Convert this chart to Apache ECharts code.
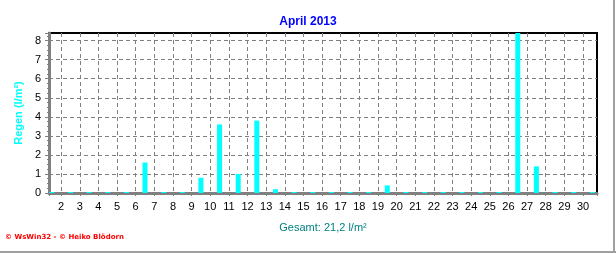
<!DOCTYPE html>
<html>
<head>
<meta charset="utf-8">
<script src="https://cdn.jsdelivr.net/npm/echarts@6/dist/echarts.min.js"></script>
<style>
html,body{margin:0;padding:0;background:#fff;}
#c{width:616px;height:253px;}
</style>
</head>
<body>
<div id="c"></div>
<script>
// Days of April 2013 and daily rain (l/m²)
const days = [1,2,3,4,5,6,7,8,9,10,11,12,13,14,15,16,17,18,19,20,21,22,23,24,25,26,27,28,29,30];
const rain = [0,0,0,0,0,1.6,0,0,0.8,3.6,1.0,3.8,0.2,0,0,0,0,0,0.4,0,0,0,0,0,0,8.4,1.4,0,0,0];
const xTickLabels = [2,3,4,5,6,7,8,9,10,11,12,13,14,15,16,17,18,19,20,21,22,23,24,25,26,27,28,29,30];
const yTickLabels = [0,1,2,3,4,5,6,7,8];
const titleText = 'April 2013';
const yName = 'Regen (l/m²)';
const totalText = 'Gesamt: 21,2 l/m²';
const footerText = '© WsWin32 - © Heiko Blödorn';

// each day's bar covers the interval [day, day+1] and sits at its middle
const barData = days.map((d, i) => [d + 0.5, rain[i]]);

const chart = echarts.init(document.getElementById('c'), null, {renderer: 'canvas'});
const font = 'Liberation Sans, Arial, sans-serif';
const gridLine = {color: '#808080', type: [4, 3], width: 1};
chart.setOption({
  animation: false,
  backgroundColor: '#fff',
  title: {
    text: titleText, left: 'center', top: 11,
    textStyle: {color: '#0000ff', fontSize: 12, fontWeight: 'bold', fontFamily: font}
  },
  grid: {left: 49, right: 19, top: 33, bottom: 60, show: true, borderColor: '#000', borderWidth: 2, backgroundColor: 'transparent'},
  xAxis: {
    type: 'value', min: 1.35, max: 30.75, splitNumber: 30,
    name: totalText, nameLocation: 'middle', nameGap: 29,
    nameTextStyle: {color: '#008080', fontSize: 11, fontFamily: font},
    axisLine: {show: true, onZero: false, lineStyle: {color: '#808080', width: 3}},
    axisTick: {show: true, length: 3, lineStyle: {color: '#808080'}},
    minorTick: {show: true, splitNumber: 4, length: 2, lineStyle: {color: '#808080'}},
    axisLabel: {color: '#000', fontSize: 11, fontFamily: font, margin: 8, showMinLabel: false, showMaxLabel: false,
      formatter: v => (xTickLabels.indexOf(v) >= 0 ? String(v) : '')},
    splitLine: {show: true, showMinLine: false, showMaxLine: false, lineStyle: gridLine}
  },
  yAxis: {
    type: 'value', min: 0, max: 8.4, interval: 1,
    name: yName, nameLocation: 'middle', nameGap: 22,
    nameTextStyle: {color: '#00ffff', fontSize: 11, fontWeight: 'bold', fontFamily: font},
    axisLine: {show: true, lineStyle: {color: '#808080', width: 3}},
    axisTick: {show: true, length: 4, lineStyle: {color: '#808080'}},
    minorTick: {show: true, splitNumber: 4, length: 2, lineStyle: {color: '#808080'}},
    axisLabel: {color: '#000', fontSize: 11, fontFamily: font, margin: 8, showMaxLabel: false,
      formatter: v => (yTickLabels.indexOf(v) >= 0 ? String(v) : '')},
    splitLine: {show: true, showMaxLine: false, lineStyle: gridLine}
  },
  series: [{
    type: 'bar', data: barData, barWidth: 5, barMinHeight: 1,
    itemStyle: {color: '#00ffff'}, z: 3
  }],
  graphic: [
    {type: 'text', left: 5, top: 234, style: {text: footerText, fill: '#ff0000', font: 'bold 7px DejaVu Sans'}},
    {type: 'rect', shape: {x: 613, y: 0, width: 2, height: 253}, style: {fill: '#a0a0a0'}},
    {type: 'rect', shape: {x: 0, y: 251, width: 616, height: 2}, style: {fill: '#a0a0a0'}}
  ]
});
</script>
</body>
</html>
